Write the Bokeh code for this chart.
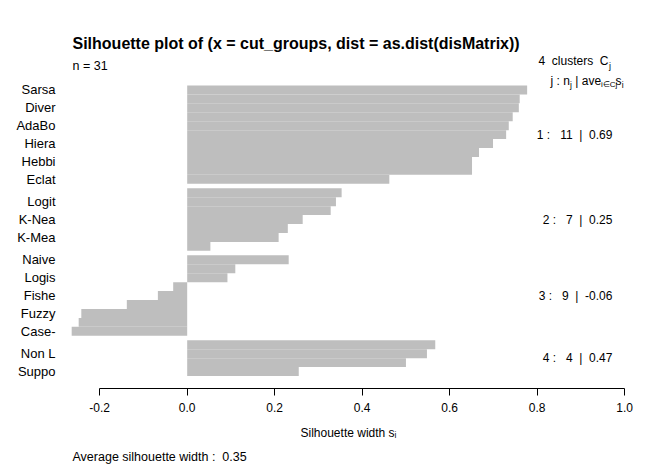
from bokeh.plotting import figure
from bokeh.models import Range1d, FixedTicker, PrintfTickFormatter, Title, Label, ColumnDataSource
from bokeh.embed import file_html
from bokeh.resources import INLINE

# ---------------- data ----------------
bar_names = ["Sarsa", "", "Diver", "", "AdaBo", "", "Hiera", "", "Hebbi", "", "Eclat",
             "", "Logit", "", "K-Nea", "", "K-Mea", "",
             "Naive", "", "Logis", "", "Fishe", "", "Fuzzy", "", "Case-",
             "", "Non L", "", "Suppo"]
bar_cluster = [1] * 11 + [2] * 7 + [3] * 9 + [4] * 4
sil_width = [0.777, 0.760, 0.758, 0.744, 0.735, 0.729, 0.699, 0.667, 0.651, 0.651, 0.462,
             0.353, 0.340, 0.328, 0.264, 0.230, 0.209, 0.053,
             0.232, 0.110, 0.092, -0.032, -0.067, -0.138, -0.242, -0.248, -0.264,
             0.567, 0.548, 0.500, 0.255]
cluster_ids = [1, 2, 3, 4]
cluster_sizes = [11, 7, 9, 4]
cluster_avg = ["0.69", "0.25", "-0.06", "0.47"]
n_total = 31
avg_width = "0.35"
x_ticks = [-0.2, 0.0, 0.2, 0.4, 0.6, 0.8, 1.0]

FONT = "Liberation Sans"
SP = "\u00a0"  # non-collapsing space

# bar positions (bar height 2 units, gap of 1 unit between clusters), top bar first
y_centers = []
y = 0
prev = None
for c in reversed(bar_cluster):
    if prev is not None and c != prev:
        y += 1
    y_centers.append(y + 1)
    y += 2
    prev = c
y_centers.reverse()
bars_top = y

src = ColumnDataSource(dict(y=y_centers, s=sil_width, name=bar_names))

p = figure(width=652, height=469,
           x_range=Range1d(-0.2667, 1.0041), y_range=Range1d(-2.794, 72.376),
           output_backend="svg", toolbar_location=None,
           min_border_left=70, min_border_right=26, min_border_top=52, min_border_bottom=81,
           title="Silhouette plot of (x = cut_groups, dist = as.dist(disMatrix))")
p.title.align = "left"
p.title.offset = 2
p.title.standoff = 1
p.title.text_font = FONT
p.title.text_font_size = "16px"
p.title.text_font_style = "bold"
p.title.text_color = "#000000"

p.hbar(y="y", left=0, right="s", height=2, source=src,
       fill_color="#BEBEBE", line_color=None)

p.outline_line_color = None
p.grid.grid_line_color = None
p.background_fill_color = "white"
p.border_fill_color = "white"

# x axis
xa = p.xaxis[0]
xa.ticker = FixedTicker(ticks=x_ticks)
xa.formatter = PrintfTickFormatter(format="%.1f")
xa.bounds = (x_ticks[0], x_ticks[-1])
xa.axis_line_color = "#000000"
xa.major_tick_line_color = "#000000"
xa.major_tick_out = 7
xa.major_tick_in = 0
xa.minor_tick_line_color = None
xa.major_label_standoff = 7
xa.major_label_text_font = FONT
xa.major_label_text_font_size = "12px"
xa.major_label_text_color = "#000000"
xa.axis_label = "Silhouette width s\u1d62"
xa.axis_label_standoff = 11
xa.axis_label_text_font = FONT
xa.axis_label_text_font_size = "12px"
xa.axis_label_text_font_style = "normal"
xa.axis_label_text_color = "#000000"

# y axis (bar names)
ya = p.yaxis[0]
lab_ticks = [yc for yc, nm in zip(y_centers, bar_names) if nm]
ya.ticker = FixedTicker(ticks=lab_ticks)
ya.major_label_overrides = {yc: nm for yc, nm in zip(y_centers, bar_names) if nm}
ya.axis_line_color = None
ya.major_tick_line_color = None
ya.minor_tick_line_color = None
ya.major_tick_out = 0
ya.major_tick_in = 0
ya.major_label_standoff = 15
ya.major_label_text_font = FONT
ya.major_label_text_font_size = "13px"
ya.major_label_text_color = "#000000"

# sub title
sub = Title(text="Average silhouette width :" + SP + SP + avg_width, align="left", offset=2,
            standoff=10, text_font=FONT, text_font_size="12.5px", text_font_style="normal",
            text_color="#000000")
p.add_layout(sub, "below")


def lab(x, y, t, size="12px", align="left"):
    p.add_layout(Label(x=x, y=y, text=t, text_font=FONT, text_font_size=size,
                       text_align=align, text_baseline="middle", text_color="#000000"))


ppx = 1 / 437.5

# n = 31, header
lab(-0.262, bars_top + 4.25, "n = %d" % n_total, size="12.5px")
lab(0.963, bars_top + 5.37, "%d%s%sclusters%s%sC" % (len(cluster_ids), SP, SP, SP, SP), align="right")
lab(0.963 + 0.5 * ppx, bars_top + 4.4, "j", size="9px")

x0 = 0.8304
lab(x0, bars_top + 1.1, "j" + SP + ":" + SP + "n")
lab(x0 + 19.5 * ppx, bars_top + 0.2, "j", size="8.5px")
lab(x0 + 21.5 * ppx, bars_top + 1.1, SP + "|" + SP + "ave")
lab(x0 + 50.5 * ppx, bars_top + 0.2, "i\u2208Cj", size="8px")
lab(x0 + 65.0 * ppx, bars_top + 1.1, "s")
lab(x0 + 71.2 * ppx, bars_top + 0.2, "i", size="8.5px")

# cluster statistics
for cid, size, avg in zip(cluster_ids, cluster_sizes, cluster_avg):
    ys = [yc for yc, c in zip(y_centers, bar_cluster) if c == cid]
    yj = sum(ys) / len(ys)
    txt = "%d%s:%s%s%s%d%s%s|%s%s%s" % (cid, SP, SP, SP, SP, size, SP, SP, SP, SP, avg)
    lab(0.972, yj, txt, align="right")

open("out.html", "w").write(file_html(p, INLINE))
